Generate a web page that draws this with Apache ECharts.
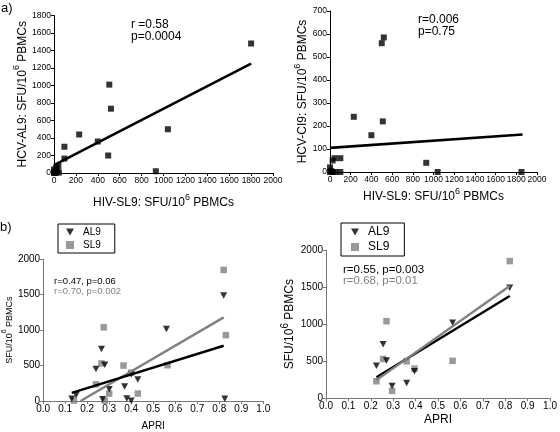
<!DOCTYPE html>
<html><head><meta charset="utf-8">
<script src="https://cdn.jsdelivr.net/npm/echarts@6/dist/echarts.min.js"></script>
<style>html,body{margin:0;padding:0;background:#fff}#c{width:560px;height:432px}</style>
</head><body><div id="c"></div>
<script>
// ---- data ----
var tlPoints = [[1800,1480],[505,1010],[520,735],[1040,500],[230,440],[400,360],[95,300],[95,165],[495,200],[930,20],[40,80],[20,60],[0,40],[0,10],[15,0],[45,5],[0,0],[30,20]];
var tlFit = [[0,90],[1800,1250]];
var trPoints = [[500,560],[520,585],[230,240],[510,220],[400,160],[930,40],[1040,0],[1850,0],[25,50],[45,60],[100,60],[0,20],[0,0],[10,5],[50,0],[100,0],[25,0]];
var trFit = [[0,105],[1860,163]];
var blAL9 = [[0.13,30],[0.15,85],[0.265,735],[0.24,450],[0.28,510],[0.30,165],[0.37,205],[0.43,305],[0.40,375],[0.38,35],[0.40,5],[0.27,25],[0.56,1015],[0.82,1490],[0.825,30]];
var blSL9 = [[0.14,5],[0.265,530],[0.275,1040],[0.24,235],[0.30,105],[0.365,500],[0.43,105],[0.40,400],[0.565,505],[0.82,1850],[0.83,930],[0.28,5]];
var blAL9Fit = [[0.13,115],[0.82,780]];
var blSL9Fit = [[0.17,0],[0.82,1180]];
var brAL9 = [[0.225,440],[0.255,730],[0.27,510],[0.295,165],[0.36,205],[0.395,365],[0.565,1020],[0.82,1490]];
var brSL9 = [[0.225,230],[0.255,530],[0.27,1040],[0.295,100],[0.36,500],[0.395,400],[0.565,505],[0.82,1850]];
var brAL9Fit = [[0.225,285],[0.82,1380]];
var brSL9Fit = [[0.225,245],[0.82,1515]];
var legendNames = ['AL9','SL9'];
var statsTL = ['r =0.58','p=0.0004'];
var statsTR = ['r=0.006','p=0.75'];
var statsBL = ['r=0.47, p=0.06','r=0.70, p=0.002'];
var statsBR = ['r=0.55, p=0.003','r=0.68, p=0.01'];

var FONT = '"Liberation Sans", Arial, sans-serif';
var GRAY = '#808080';
var TRI = 'path://M0,0L10,0L5,9Z';

function intFmt(v){ return String(Math.round(v)); }
function decFmt(v){ return v.toFixed(1); }
function axisBase(color, fs, fmt){
  return {
    axisLine:{show:true, onZero:false, lineStyle:{color:color, width:1}},
    axisTick:{show:true, length:3, lineStyle:{color:color}},
    axisLabel:{color:'#000', fontSize:fs, fontFamily:FONT, margin:3, formatter:fmt || intFmt, hideOverlap:false},
    splitLine:{show:false}
  };
}
function mk(o, base){ return Object.assign({}, base, o); }
function supName(pre, post){
  return '{a|' + pre + '}{s|6}{a|' + post + '}';
}
function supRich(fs, sfs){
  return {a:{fontSize:fs, fontFamily:FONT, color:'#000', verticalAlign:'bottom', lineHeight:fs+4},
          s:{fontSize:sfs, fontFamily:FONT, color:'#000', verticalAlign:'top', lineHeight:fs+4}};
}

var chart = echarts.init(document.getElementById('c'), null, {renderer:'canvas'});
var option = {
  animation:false,
  backgroundColor:'#fff',
  textStyle:{fontFamily:FONT},
  grid:[
    {left:54, top:15.5, width:219, height:157.5},
    {left:330, top:11, width:207, height:161},
    {left:40.7, top:259.3, width:222.6, height:141.7},
    {left:326, top:250, width:227, height:148.3}
  ],
  xAxis:[
    mk({gridIndex:0, type:'value', min:0, max:2000, interval:200,
      name:supName('HIV-SL9: SFU/10',' PBMCs'), nameLocation:'middle', nameGap:20,
      nameTextStyle:{rich:supRich(12,9)}}, axisBase('#000',8.5)),
    mk({gridIndex:1, type:'value', min:0, max:2000, interval:200,
      name:supName('HIV-SL9: SFU/10',' PBMCs'), nameLocation:'middle', nameGap:15,
      nameTextStyle:{rich:supRich(12,9)}}, axisBase('#000',8.5)),
    mk({gridIndex:2, type:'value', min:0, max:1, interval:0.1,
      name:'APRI', nameLocation:'middle', nameGap:20,
      nameTextStyle:{fontSize:10, color:'#000', fontFamily:FONT}}, axisBase('#777',10,decFmt)),
    mk({gridIndex:3, type:'value', min:0, max:1, interval:0.1,
      name:'APRI', nameLocation:'middle', nameGap:15,
      nameTextStyle:{fontSize:12, color:'#000', fontFamily:FONT}}, axisBase('#777',10,decFmt))
  ],
  yAxis:[
    mk({gridIndex:0, type:'value', min:0, max:1800, interval:200,
      name:supName('HCV-AL9: SFU/10',' PBMCs'), nameLocation:'middle', nameGap:22, nameRotate:90,
      nameTextStyle:{rich:supRich(12,9)}}, axisBase('#000',8.5)),
    mk({gridIndex:1, type:'value', min:0, max:700, interval:100,
      name:supName('HCV-CI9: SFU/10',' PBMCs'), nameLocation:'middle', nameGap:18, nameRotate:90,
      nameTextStyle:{rich:supRich(12,9)}}, axisBase('#000',8.5)),
    mk({gridIndex:2, type:'value', min:0, max:2000, interval:500,
      name:supName('SFU/10',' PBMCs'), nameLocation:'middle', nameGap:28, nameRotate:90,
      nameTextStyle:{rich:supRich(9,7)}}, axisBase('#777',10)),
    mk({gridIndex:3, type:'value', min:0, max:2000, interval:500,
      name:supName('SFU/10',' PBMCs'), nameLocation:'middle', nameGap:30, nameRotate:90,
      nameTextStyle:{rich:supRich(12,10)}}, axisBase('#777',10))
  ],
  legend:[
    {left:58, top:224, orient:'vertical', itemWidth:8, itemHeight:8, itemGap:3,
     padding:[3,14,3,8], borderColor:'#000', borderWidth:1, selectedMode:false,
     textStyle:{fontSize:10, color:'#000', fontFamily:FONT, padding:[0,0,0,4]},
     data:[{name:legendNames[0], icon:TRI},{name:legendNames[1], icon:'rect'}]},
    {left:341, top:223, orient:'vertical', itemWidth:8, itemHeight:8, itemGap:3,
     padding:[3,15,3,10], borderColor:'#000', borderWidth:1, selectedMode:false,
     textStyle:{fontSize:12, color:'#000', fontFamily:FONT, padding:[0,0,0,4]},
     data:[{name:legendNames[0], icon:TRI},{name:legendNames[1], icon:'rect'}]}
  ],
  series:[
    {type:'scatter', xAxisIndex:0, yAxisIndex:0, data:tlPoints, symbol:'rect', symbolSize:6, itemStyle:{color:'#000'}},
    {type:'line', xAxisIndex:0, yAxisIndex:0, data:tlFit, symbol:'none', lineStyle:{color:'#000', width:2.6}},
    {type:'scatter', xAxisIndex:1, yAxisIndex:1, data:trPoints, symbol:'rect', symbolSize:6, itemStyle:{color:'#000'}},
    {type:'line', xAxisIndex:1, yAxisIndex:1, data:trFit, symbol:'none', lineStyle:{color:'#000', width:2.6}},
    {name:'SL9', type:'scatter', xAxisIndex:2, yAxisIndex:2, data:blSL9, symbol:'rect', symbolSize:6.5, itemStyle:{color:GRAY}},
    {name:'AL9', type:'scatter', xAxisIndex:2, yAxisIndex:2, data:blAL9, symbol:TRI, symbolSize:[7,6.5], itemStyle:{color:'#000'}},
    {name:'SL9fit', type:'line', xAxisIndex:2, yAxisIndex:2, data:blSL9Fit, symbol:'none', lineStyle:{color:GRAY, width:2.4}},
    {name:'AL9fit', type:'line', xAxisIndex:2, yAxisIndex:2, data:blAL9Fit, symbol:'none', lineStyle:{color:'#000', width:2.4}},
    {name:'SL9', type:'scatter', xAxisIndex:3, yAxisIndex:3, data:brSL9, symbol:'rect', symbolSize:6.5, itemStyle:{color:GRAY}},
    {name:'AL9', type:'scatter', xAxisIndex:3, yAxisIndex:3, data:brAL9, symbol:TRI, symbolSize:[7,6.5], itemStyle:{color:'#000'}},
    {name:'AL9fit', type:'line', xAxisIndex:3, yAxisIndex:3, data:brAL9Fit, symbol:'none', lineStyle:{color:'#000', width:2.4}},
    {name:'SL9fit', type:'line', xAxisIndex:3, yAxisIndex:3, data:brSL9Fit, symbol:'none', lineStyle:{color:GRAY, width:2.4}}
  ],
  graphic:[
    {type:'text', left:1, top:2, style:{text:'a)', font:'13px '+FONT, fill:'#000'}},
    {type:'text', left:0, top:221, style:{text:'b)', font:'13px '+FONT, fill:'#000'}},
    {type:'text', left:131, top:19, style:{text:statsTL.join('\n'), font:'12px '+FONT, fill:'#000', lineHeight:12}},
    {type:'text', left:418, top:14, style:{text:statsTR.join('\n'), font:'12px '+FONT, fill:'#000', lineHeight:11.5}},
    {type:'text', left:54, top:276.5, style:{text:statsBL[0], font:'9.5px '+FONT, fill:'#000'}},
    {type:'text', left:54, top:286.5, style:{text:statsBL[1], font:'9.5px '+FONT, fill:GRAY}},
    {type:'text', left:343, top:264, style:{text:statsBR[0], font:'11.5px '+FONT, fill:'#000'}},
    {type:'text', left:343, top:275, style:{text:statsBR[1], font:'11.5px '+FONT, fill:GRAY}}
  ]
};
chart.setOption(option);
</script></body></html>
